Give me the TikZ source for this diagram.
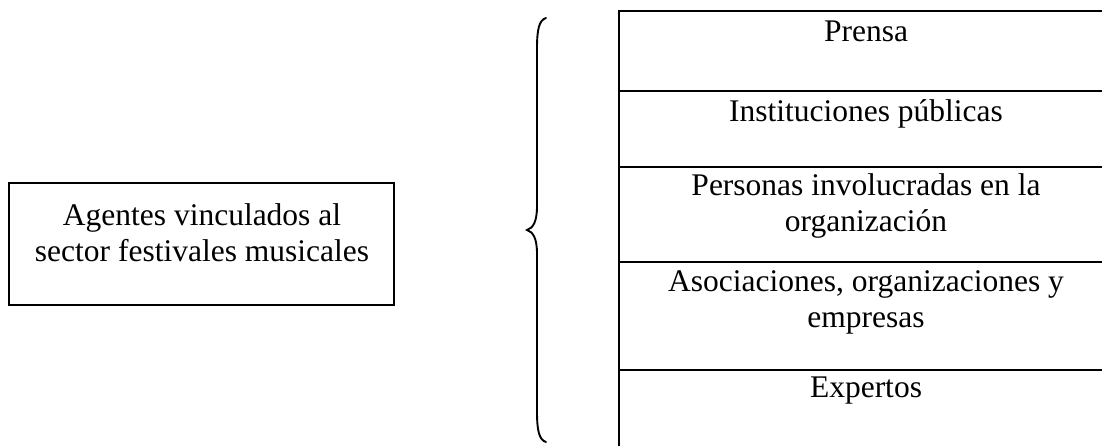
\documentclass[tikz,border=0pt]{standalone}
\usepackage{fontspec}
\setmainfont{Liberation Serif}
\begin{document}
\begin{tikzpicture}[x=1pt,y=-1pt,
  rowtext/.style={anchor=north,inner sep=0pt,align=center,
    font=\fontsize{31.5}{36}\selectfont},
  rule/.style={line width=2.2pt},
  brace/.style={line width=1.9pt,line cap=round}]
\useasboundingbox (0,0) rectangle (1102,446);
\clip (0,0) rectangle (1102,446);

% left box
\draw[line width=1.6pt] (9,183) rectangle (394,305);
\node[rowtext] (agentes) at (202,200) {\strut Agentes vinculados al\\sector festivales musicales};

% curly brace
\coordinate (btop) at (546,18);
\coordinate (btip) at (527,230);
\coordinate (bbot) at (546,442);
\draw[brace] (btop) .. controls (539,20) and (537,30) .. (537,48)
  -- (537,206) .. controls (537,222) and (533,228) .. (btip)
  .. controls (533,232) and (537,238) .. (537,254)
  -- (537,412) .. controls (537,430) and (539,440) .. (bbot);

% table of agents
\draw[rule] (619,10) -- (619,460);
\foreach \yy in {11,91,167,262,370}
  \draw[rule] (618,\yy) -- (1120,\yy);

\node[rowtext] (prensa) at (866,16) {\strut Prensa};
\node[rowtext] (instituciones) at (866,96) {\strut Instituciones públicas};
\node[rowtext] (personas) at (866,170) {\strut Personas involucradas en la\\organización};
\node[rowtext] (asociaciones) at (866,266) {\strut Asociaciones, organizaciones y\\empresas};
\node[rowtext] (expertos) at (866,372) {\strut Expertos};
\end{tikzpicture}
\end{document}
